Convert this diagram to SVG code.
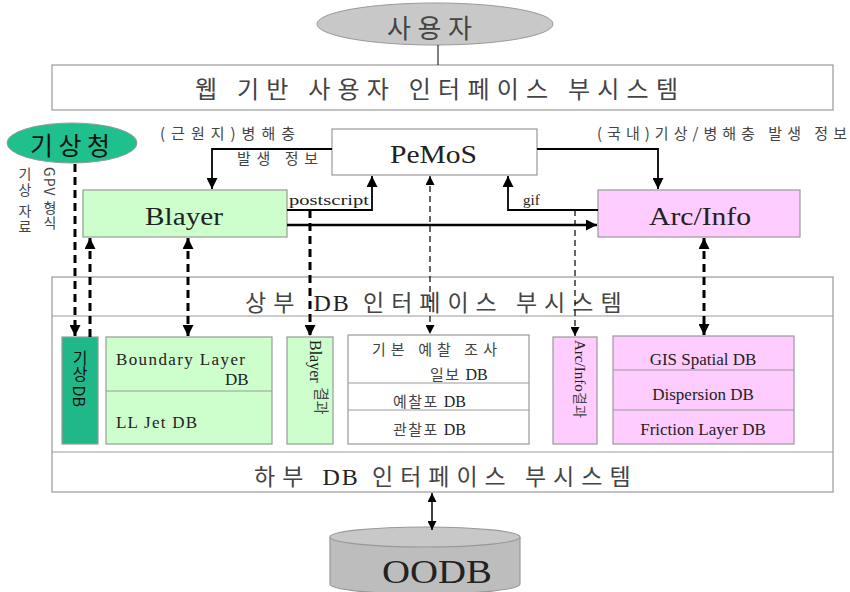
<svg xmlns="http://www.w3.org/2000/svg" width="850" height="592" viewBox="0 0 850 592">
  <style>
    .box { stroke: #999; stroke-width: 1.2; }
    .ko { font-family: "Noto Sans CJK KR", "Noto Sans", sans-serif; fill: #444; }
    .ko-dark { font-family: "Noto Sans CJK KR", "Noto Sans", sans-serif; fill: #111; }
    .en { font-family: "Liberation Serif", "Times New Roman", serif; fill: #222; }
    .solid { stroke: #000; stroke-width: 1.8; fill: none; }
    .dash-thick { stroke: #000; stroke-width: 3; stroke-dasharray: 8 5; fill: none; }
    .dash-thin { stroke: #000; stroke-width: 1.2; stroke-dasharray: 6 4; fill: none; }
    .vert { writing-mode: vertical-rl; text-orientation: mixed; }
    .vert-side { writing-mode: vertical-rl; text-orientation: sideways; }
  </style>
  <defs>
    <marker id="ah" viewBox="0 0 10 10" refX="10" refY="5" markerWidth="11" markerHeight="11" markerUnits="userSpaceOnUse" orient="auto-start-reverse">
      <path d="M0,0 L10,5 L0,10 Z" fill="#000"/>
    </marker>
    <marker id="ahs" viewBox="0 0 10 10" refX="10" refY="5" markerWidth="9" markerHeight="9" markerUnits="userSpaceOnUse" orient="auto-start-reverse">
      <path d="M0,0 L10,5 L0,10 Z" fill="#000"/>
    </marker>
  </defs>

  <rect width="850" height="592" fill="#fff"/>

  <!-- user -->
  <g id="user">
    <ellipse cx="435" cy="24" rx="118" ry="21" fill="#c8c8c8" stroke="#999" stroke-width="1"/>
    <text class="ko" x="387" y="38" font-size="26" textLength="85" lengthAdjust="spacing">사용자</text>
  </g>

  <!-- web UI subsystem -->
  <g id="web-ui">
    <rect class="box" x="52" y="65" width="781" height="45" fill="#fff"/>
    <text class="ko" x="195" y="98" font-size="24" textLength="483" lengthAdjust="spacing">웹 기반 사용자 인터페이스 부시스템</text>
  </g>

  <!-- weather agency -->
  <g id="kma">
    <ellipse cx="72" cy="143" rx="65" ry="20" fill="#1fc08e" stroke="#999" stroke-width="1"/>
    <text class="ko-dark" x="30" y="155" font-size="25" textLength="80" lengthAdjust="spacing">기상청</text>
    <text class="ko vert" x="25" y="167" font-size="14" letter-spacing="2">기상 자료</text>
    <text class="ko vert" x="50" y="167" font-size="14" letter-spacing="1">GPV 형식</text>
  </g>

  <!-- PeMoS -->
  <g id="pemos">
    <rect class="box" x="332" y="129" width="205" height="46" fill="#fff"/>
    <text class="en" x="390" y="163" font-size="25" textLength="87" lengthAdjust="spacingAndGlyphs">PeMoS</text>
  </g>

  <!-- Blayer -->
  <g id="blayer">
    <rect class="box" x="83" y="190" width="204" height="47" fill="#ccffcc"/>
    <text class="en" x="145" y="225" font-size="26" textLength="78" lengthAdjust="spacingAndGlyphs">Blayer</text>
  </g>

  <!-- Arc/Info -->
  <g id="arcinfo">
    <rect class="box" x="598" y="190" width="202" height="47" fill="#ffccff"/>
    <text class="en" x="649" y="225" font-size="26" textLength="102" lengthAdjust="spacingAndGlyphs">Arc/Info</text>
  </g>

  <!-- upper / lower DB interface frame -->
  <g id="db-interface">
    <rect class="box" x="52" y="277" width="781" height="215" fill="#fff"/>
    <line x1="52" y1="316" x2="833" y2="316" stroke="#999" stroke-width="1.2"/>
    <line x1="52" y1="452" x2="833" y2="452" stroke="#999" stroke-width="1.2"/>
    <text class="ko" x="245" y="311" font-size="23" letter-spacing="7">상부 <tspan class="en" font-size="24" letter-spacing="2">DB</tspan> 인터페이스 부시스템</text>
    <text class="ko" x="254" y="485" font-size="23" letter-spacing="7">하부 <tspan class="en" font-size="24" letter-spacing="2">DB</tspan> 인터페이스 부시스템</text>
  </g>

  <!-- weather DB -->
  <g id="weather-db">
    <rect class="box" x="62" y="337" width="36" height="107" fill="#20b888"/>
    <text class="ko-dark vert" x="80" y="350" font-size="16">기상 DB</text>
  </g>

  <!-- boundary layer DB -->
  <g id="boundary-db">
    <rect class="box" x="106" y="337" width="166" height="107" fill="#ccffcc"/>
    <line x1="106" y1="391" x2="272" y2="391" stroke="#999" stroke-width="1.2"/>
    <text class="en" x="116" y="365" font-size="17" textLength="129" lengthAdjust="spacing">Boundary Layer</text>
    <text class="en" x="225" y="385" font-size="17">DB</text>
    <text class="en" x="116" y="428" font-size="17" textLength="81" lengthAdjust="spacing">LL Jet DB</text>
  </g>

  <!-- Blayer result -->
  <g id="blayer-result">
    <rect class="box" x="287" y="337" width="46" height="107" fill="#ccffcc"/>
    <text class="en vert-side" x="310" y="340" font-size="16">Blayer <tspan class="ko" font-size="15" dx="6">결과</tspan></text>
  </g>

  <!-- forecast survey DB -->
  <g id="survey-db">
    <rect class="box" x="348" y="335" width="181" height="109" fill="#fff"/>
    <line x1="348" y1="383" x2="529" y2="383" stroke="#999" stroke-width="1.2"/>
    <line x1="348" y1="410" x2="529" y2="410" stroke="#999" stroke-width="1.2"/>
    <text class="ko" x="372" y="355" font-size="15" textLength="125" lengthAdjust="spacing">기본 예찰 조사</text>
    <text class="ko" x="430" y="380" font-size="15" letter-spacing="1.5">일보 <tspan class="en" font-size="16" letter-spacing="0">DB</tspan></text>
    <text class="ko" x="393" y="407" font-size="15" letter-spacing="1.5">예찰포 <tspan class="en" font-size="16" letter-spacing="0">DB</tspan></text>
    <text class="ko" x="393" y="435" font-size="15" letter-spacing="1.5">관찰포 <tspan class="en" font-size="16" letter-spacing="0">DB</tspan></text>
  </g>

  <!-- Arc/Info result -->
  <g id="arcinfo-result">
    <rect class="box" x="553" y="337" width="44" height="107" fill="#ffccff"/>
    <text class="en vert-side" x="575" y="340" font-size="15">Arc/Info<tspan class="ko" font-size="14">결과</tspan></text>
  </g>

  <!-- GIS DB group -->
  <g id="gis-db">
    <rect class="box" x="613" y="336" width="181" height="108" fill="#ffccff"/>
    <line x1="613" y1="370" x2="794" y2="370" stroke="#999" stroke-width="1.2"/>
    <line x1="613" y1="410" x2="794" y2="410" stroke="#999" stroke-width="1.2"/>
    <text class="en" x="703" y="365" font-size="17" text-anchor="middle">GIS Spatial DB</text>
    <text class="en" x="703" y="400" font-size="17" text-anchor="middle">Dispersion DB</text>
    <text class="en" x="703" y="435" font-size="17" text-anchor="middle">Friction Layer DB</text>
  </g>

  <!-- OODB -->
  <g id="oodb">
    <path d="M330,537 L330,584 A95,10 0 0 0 520,584 L520,537" fill="#bdbdbd" stroke="#999" stroke-width="1.2"/>
    <ellipse cx="425" cy="537" rx="95" ry="10" fill="#c8c8c8" stroke="#999" stroke-width="1.2"/>
    <text class="en" x="382" y="583" font-size="34" textLength="110" lengthAdjust="spacingAndGlyphs">OODB</text>
  </g>

  <!-- connectors -->
  <g id="connectors">
    <line x1="438" y1="45" x2="438" y2="65" stroke="#000" stroke-width="1"/>

    <!-- PeMoS to Blayer -->
    <polyline class="solid" points="332,149 212,149 212,189" marker-end="url(#ah)"/>
    <text class="ko" x="160" y="139" font-size="15" textLength="135" lengthAdjust="spacing">(근원지)병해충</text>
    <text class="ko" x="237" y="164" font-size="15" textLength="81" lengthAdjust="spacing">발생 정보</text>

    <!-- PeMoS to Arc/Info -->
    <polyline class="solid" points="537,149 658,149 658,189" marker-end="url(#ah)"/>
    <text class="ko" x="597" y="139" font-size="15" textLength="250" lengthAdjust="spacing">(국내)기상/병해충 발생 정보</text>

    <!-- Blayer to PeMoS (postscript) -->
    <polyline class="solid" points="287,210 372,210 372,176" marker-end="url(#ah)"/>
    <text class="en" x="289" y="205" font-size="15" textLength="80" lengthAdjust="spacingAndGlyphs">postscript</text>

    <!-- Arc/Info to PeMoS (gif) -->
    <polyline class="solid" points="598,210 508,210 508,176" marker-end="url(#ah)"/>
    <text class="en" x="523" y="205" font-size="15">gif</text>

    <!-- Blayer to Arc/Info -->
    <line x1="287" y1="225" x2="597" y2="225" stroke="#000" stroke-width="2.5" marker-end="url(#ah)"/>

    <!-- weather agency data to weather DB -->
    <line class="dash-thick" x1="75" y1="164" x2="75" y2="336" marker-end="url(#ah)"/>
    <!-- weather DB to Blayer -->
    <line class="dash-thick" x1="90" y1="337" x2="90" y2="238" marker-end="url(#ah)"/>
    <!-- Blayer <-> boundary layer DB -->
    <line class="dash-thick" x1="188" y1="238" x2="188" y2="336" marker-start="url(#ah)" marker-end="url(#ah)"/>
    <!-- Blayer output to Blayer result -->
    <line class="dash-thick" x1="310" y1="210" x2="310" y2="336" marker-end="url(#ah)"/>
    <!-- PeMoS <-> survey DB -->
    <line class="dash-thin" x1="430" y1="176" x2="430" y2="334" marker-start="url(#ahs)" marker-end="url(#ahs)"/>
    <!-- Arc/Info output to Arc/Info result -->
    <line class="dash-thin" x1="575" y1="210" x2="575" y2="336" marker-end="url(#ahs)"/>
    <!-- Arc/Info <-> GIS DB -->
    <line class="dash-thick" x1="704" y1="238" x2="704" y2="335" marker-start="url(#ah)" marker-end="url(#ah)"/>

    <!-- lower interface <-> OODB -->
    <line x1="432" y1="493" x2="432" y2="530" stroke="#000" stroke-width="1.5" marker-start="url(#ahs)" marker-end="url(#ahs)"/>
  </g>
</svg>
